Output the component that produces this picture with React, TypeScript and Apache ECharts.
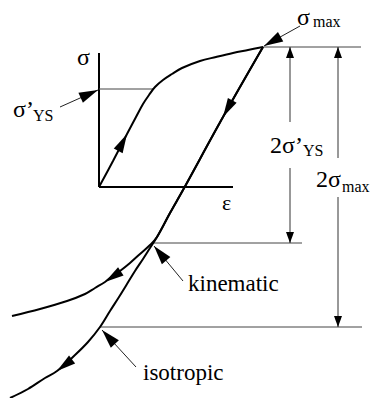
import { useEffect, useRef } from "react";
import * as echarts from "echarts";

type Pt = [number, number];
type Seg = [Pt, Pt];

// Stress levels of the cycle (diagram units: ε to the right, σ upwards)
const sigmaMax = 140;
const sigmaYS = 98;
const kinematicLevel = sigmaMax - 2 * sigmaYS;
const isotropicLevel = sigmaMax - 2 * sigmaMax;

// Monotonic loading from the origin up to σmax
const loadingCurve: Pt[] = [
  [0, 0], [14, 26], [28, 53], [37, 70], [44, 83], [50, 92], [56, 100], [64, 107],
  [73, 113], [83, 119], [101, 126], [117, 130], [134, 134], [149, 137], [164, 140],
];
// Elastic unloading from σmax, common to both hardening models
const unloadingPath: Pt[] = [[164, 140], [124, 70], [84, -3], [71, -26], [58, -50]];
// Reverse yielding, kinematic hardening
const kinematicBranch: Pt[] = [
  [51, -58], [41, -67], [31, -76], [21, -84], [11, -91], [6, -95], [-4, -101],
  [-14, -107], [-32, -114], [-59, -122], [-87, -129],
];
// Reverse yielding, isotropic hardening
const isotropicBranch: Pt[] = [
  [51, -61], [44, -72], [36, -84], [28, -97], [20, -110], [11, -124], [1, -140],
  [-11, -155], [-24, -168], [-42, -184], [-54, -191], [-71, -202], [-89, -211],
];

const kinematicCurve = unloadingPath.concat(kinematicBranch);
const isotropicCurve = unloadingPath.concat(isotropicBranch);

// Direction arrows on the curves: [curve, index of the arrow tip]
const curveArrows: [Pt[], number][] = [
  [loadingCurve, 2],
  [unloadingPath, 1],
  [kinematicCurve, unloadingPath.length + 5],
  [isotropicCurve, unloadingPath.length + 9],
];

function xAtLevel(curve: Pt[], level: number): number {
  for (let i = 1; i < curve.length; i++) {
    const [x0, y0] = curve[i - 1];
    const [x1, y1] = curve[i];
    if (y0 !== y1 && (y0 - level) * (y1 - level) <= 0) {
      return x0 + ((x1 - x0) * (level - y0)) / (y1 - y0);
    }
  }
  return curve[curve.length - 1][0];
}

const peak = loadingCurve[loadingCurve.length - 1];
const yieldX = xAtLevel(loadingCurve, sigmaYS);
const kinematicX = xAtLevel(kinematicCurve, kinematicLevel);
const isotropicX = xAtLevel(isotropicCurve, isotropicLevel);

// σ–ε inset axes
const axisLines: Seg[] = [
  [[0, 0], [0, 134]],
  [[0, 0], [134, 0]],
];

// Horizontal reference levels
const levelLines: Seg[] = [
  [[0, sigmaYS], [yieldX, sigmaYS]],
  [peak, [262, sigmaMax]],
  [[kinematicX + 1, kinematicLevel], [203, kinematicLevel]],
  [[isotropicX, isotropicLevel], [263, isotropicLevel]],
];

// Dimension arrows 2σ'YS and 2σmax (broken around their labels)
const dimYS = 191;
const dimMax = 239;
const dimensionLines: Seg[] = [
  [[dimYS, 65], [dimYS, sigmaMax]],
  [[dimYS, 19], [dimYS, kinematicLevel]],
  [[dimMax, 29], [dimMax, sigmaMax]],
  [[dimMax, -10], [dimMax, isotropicLevel]],
];

// Label pointers
const pointerLines: Seg[] = [
  [[201, 161], [peak[0] + 1, peak[1] + 1]],
  [[-39, 80], [-1, 97]],
  [[84, -94], [55, -59]],
  [[37, -180], [3, -143]],
];

function arrowHead(tip: number[], from: number[], len: number, half: number): number[][] {
  const dx = tip[0] - from[0];
  const dy = tip[1] - from[1];
  const d = Math.hypot(dx, dy) || 1;
  const ux = dx / d;
  const uy = dy / d;
  const bx = tip[0] - ux * len;
  const by = tip[1] - uy * len;
  return [
    [tip[0], tip[1]],
    [bx - uy * half, by + ux * half],
    [bx + uy * half, by - ux * half],
  ];
}

function segmentSeries(name: string, segs: Seg[], color: string, width: number, head?: [number, number]) {
  return {
    type: "custom",
    name,
    silent: true,
    clip: false,
    dimensions: ["x1", "y1", "x2", "y2"],
    encode: { x: [0, 2], y: [1, 3] },
    data: segs.map(([a, b]) => [a[0], a[1], b[0], b[1]]),
    renderItem: (_params: any, api: any) => {
      const p1 = api.coord([api.value(0), api.value(1)]);
      const p2 = api.coord([api.value(2), api.value(3)]);
      const children: any[] = [
        {
          type: "line",
          shape: { x1: p1[0], y1: p1[1], x2: p2[0], y2: p2[1] },
          style: { stroke: color, lineWidth: width, fill: "none" },
        },
      ];
      if (head) {
        children.push({
          type: "polygon",
          shape: { points: arrowHead(p2, p1, head[0], head[1]) },
          style: { fill: "#000" },
        });
      }
      return { type: "group", children };
    },
  };
}

function curveSeries(name: string, data: Pt[]) {
  return {
    type: "line",
    name,
    data,
    smooth: 0.35,
    showSymbol: false,
    silent: true,
    clip: false,
    lineStyle: { color: "#000", width: 2 },
  };
}

const arrowSeries = {
  type: "custom",
  name: "direction",
  silent: true,
  clip: false,
  encode: { x: [0, 2, 4], y: [1, 3, 5] },
  data: curveArrows.map(([c, i]) => {
    const prev = c[Math.max(0, i - 1)];
    const next = c[Math.min(c.length - 1, i + 1)];
    return [c[i][0], c[i][1], prev[0], prev[1], next[0], next[1]];
  }),
  renderItem: (_params: any, api: any) => {
    const tip = api.coord([api.value(0), api.value(1)]);
    const prev = api.coord([api.value(2), api.value(3)]);
    const next = api.coord([api.value(4), api.value(5)]);
    const from = [tip[0] - (next[0] - prev[0]), tip[1] - (next[1] - prev[1])];
    return {
      type: "polygon",
      shape: { points: arrowHead(tip, from, 19, 5) },
      style: { fill: "#000" },
    };
  },
};

function label(text: string, x: number, y: number, size: number) {
  return {
    type: "text",
    x,
    y,
    silent: true,
    style: {
      text,
      fill: "#000",
      fontFamily: "Liberation Serif",
      fontSize: size,
      align: "left",
      verticalAlign: "middle",
      textAlign: "left",
      textVerticalAlign: "middle",
    },
  };
}

export default function App() {
  const ref = useRef<HTMLDivElement>(null);

  useEffect(() => {
    if (!ref.current) return;
    const chart = echarts.init(ref.current, null, { renderer: "svg" });
    chart.setOption({
      animation: false,
      backgroundColor: "#fff",
      grid: { left: 0, right: 0, top: 0, bottom: 0 },
      xAxis: { type: "value", min: -99, max: 272, show: false },
      yAxis: { type: "value", min: -211, max: 187, show: false },
      series: [
        segmentSeries("axes", axisLines, "#000", 2),
        segmentSeries("levels", levelLines, "#444", 1),
        segmentSeries("dimensions", dimensionLines, "#333", 1, [11, 4]),
        segmentSeries("pointers", pointerLines, "#222", 1, [19, 5.5]),
        curveSeries("loading", loadingCurve),
        curveSeries("kinematic", kinematicCurve),
        curveSeries("isotropic", isotropicCurve),
        arrowSeries,
      ],
      graphic: [
        label("σ", 77, 57, 24),
        label("ε", 222, 202, 22),
        label("σ’", 13, 109, 24),
        label("YS", 33, 115, 16),
        label("σ", 297, 17, 24),
        label("max", 313, 21, 16),
        label("2σ’", 270, 145, 24),
        label("YS", 303, 150, 16),
        label("2σ", 316, 179, 24),
        label("max", 342, 186, 16),
        label("kinematic", 188, 283, 23),
        label("isotropic", 143, 372, 23),
      ],
    });
    return () => chart.dispose();
  }, []);

  return (
    <div
      ref={ref}
      style={{ position: "absolute", left: 0, top: 0, width: 371, height: 398 }}
    />
  );
}
